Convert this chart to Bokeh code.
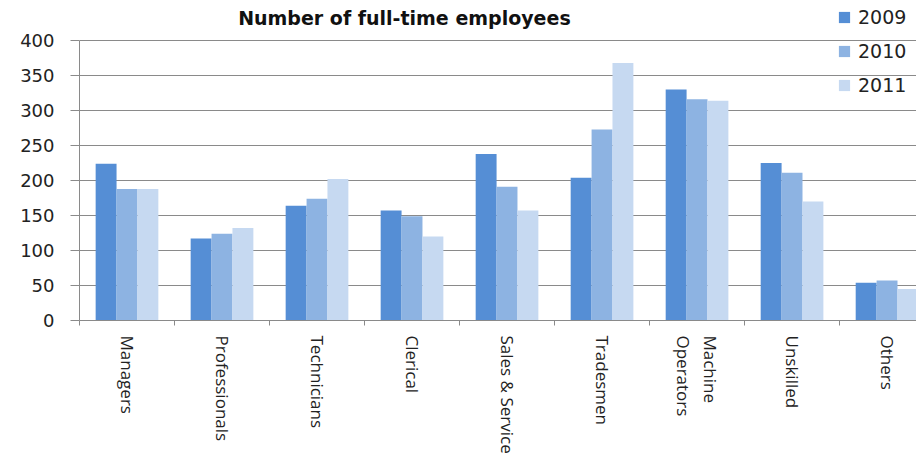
import numpy as np
from bokeh.plotting import figure
from bokeh.models import (Range1d, FixedTicker, Legend, LegendItem, Label,
                          ColumnDataSource)
from bokeh.embed import file_html
from bokeh.resources import INLINE

# Full-time employees by occupation group
categories = ["Managers", "Professionals", "Technicians", "Clerical",
              "Sales & Service", "Tradesmen", "Machine\nOperators",
              "Unskilled", "Others"]
years = ["2009", "2010", "2011"]
emp_2009 = [224, 117, 164, 157, 238, 204, 330, 225, 54]
emp_2010 = [188, 124, 174, 149, 191, 273, 316, 211, 57]
emp_2011 = [188, 132, 202, 120, 157, 368, 314, 170, 45]
y_ticks = [0, 50, 100, 150, 200, 250, 300, 350, 400]

colors = ["#558ed5", "#8db3e2", "#c6d9f1"]
bar_w = 0.22
offsets = [-bar_w, 0.0, bar_w]

idx = np.arange(len(categories))

# The frame reaches the top edge so the title and legend can sit above the
# 400 line; the value axis itself stops at 400.
p = figure(width=916, height=458, output_backend="svg", toolbar_location=None,
           x_range=Range1d(-0.5, 8.31), y_range=Range1d(0, 457.1),
           min_border_left=79, min_border_right=0, min_border_top=0,
           min_border_bottom=138, background_fill_color="white",
           border_fill_color="white")
p.outline_line_color = None

p.add_layout(Label(x=2.92, y=432, text="Number of full-time employees",
                   text_align="center", text_baseline="middle",
                   text_font="DejaVu Sans", text_font_size="19px",
                   text_font_style="bold", text_color="#111111"))

renderers = []
for series, off, col in zip([emp_2009, emp_2010, emp_2011], offsets, colors):
    src = ColumnDataSource(dict(x=idx + off, top=series))
    r = p.vbar(x="x", top="top", bottom=0, width=bar_w, source=src,
               fill_color=col, line_color=None)
    renderers.append(r)

# y axis and gridlines
p.yaxis.ticker = FixedTicker(ticks=y_ticks)
p.yaxis.bounds = (0, 400)
p.yaxis.major_tick_out = 9
p.yaxis.major_tick_in = 0
p.yaxis.minor_tick_line_color = None
p.yaxis.axis_line_color = "#8a8a8a"
p.yaxis.major_tick_line_color = "#8a8a8a"
p.yaxis.major_label_text_font = "DejaVu Sans"
p.yaxis.major_label_text_font_size = "18px"
p.yaxis.major_label_text_color = "#222222"
p.yaxis.major_label_standoff = 16
p.ygrid.ticker = FixedTicker(ticks=y_ticks)
p.ygrid.grid_line_color = "#8a8a8a"
p.xgrid.grid_line_color = None

# x axis: labels at category centres, tick marks at category boundaries
bounds = [i - 0.5 for i in range(len(categories) + 1)]
p.xaxis.ticker = FixedTicker(ticks=list(idx), minor_ticks=bounds)
p.xaxis.major_label_overrides = {int(i): c for i, c in zip(idx, categories)}
p.xaxis.major_tick_line_color = None
p.xaxis.major_tick_out = 0
p.xaxis.major_tick_in = 0
p.xaxis.minor_tick_out = 5
p.xaxis.minor_tick_in = 0
p.xaxis.minor_tick_line_color = "#8a8a8a"
p.xaxis.axis_line_color = "#8a8a8a"
p.xaxis.major_label_orientation = -np.pi / 2
p.xaxis.major_label_text_font = "Open Sans"
p.xaxis.major_label_text_font_size = "17px"
p.xaxis.major_label_text_color = "#222222"
p.xaxis.major_label_standoff = 10

legend = Legend(items=[LegendItem(label=y, renderers=[r])
                       for y, r in zip(years, renderers)],
                location=(758, 224), orientation="vertical",
                glyph_width=14, glyph_height=14, label_height=20,
                label_standoff=7, spacing=12, padding=0, margin=0,
                label_text_font="DejaVu Sans", label_text_font_size="19px",
                label_text_color="#222222", border_line_color=None,
                background_fill_alpha=0)
p.add_layout(legend, "center")

open("out.html", "w").write(file_html(p, INLINE))
